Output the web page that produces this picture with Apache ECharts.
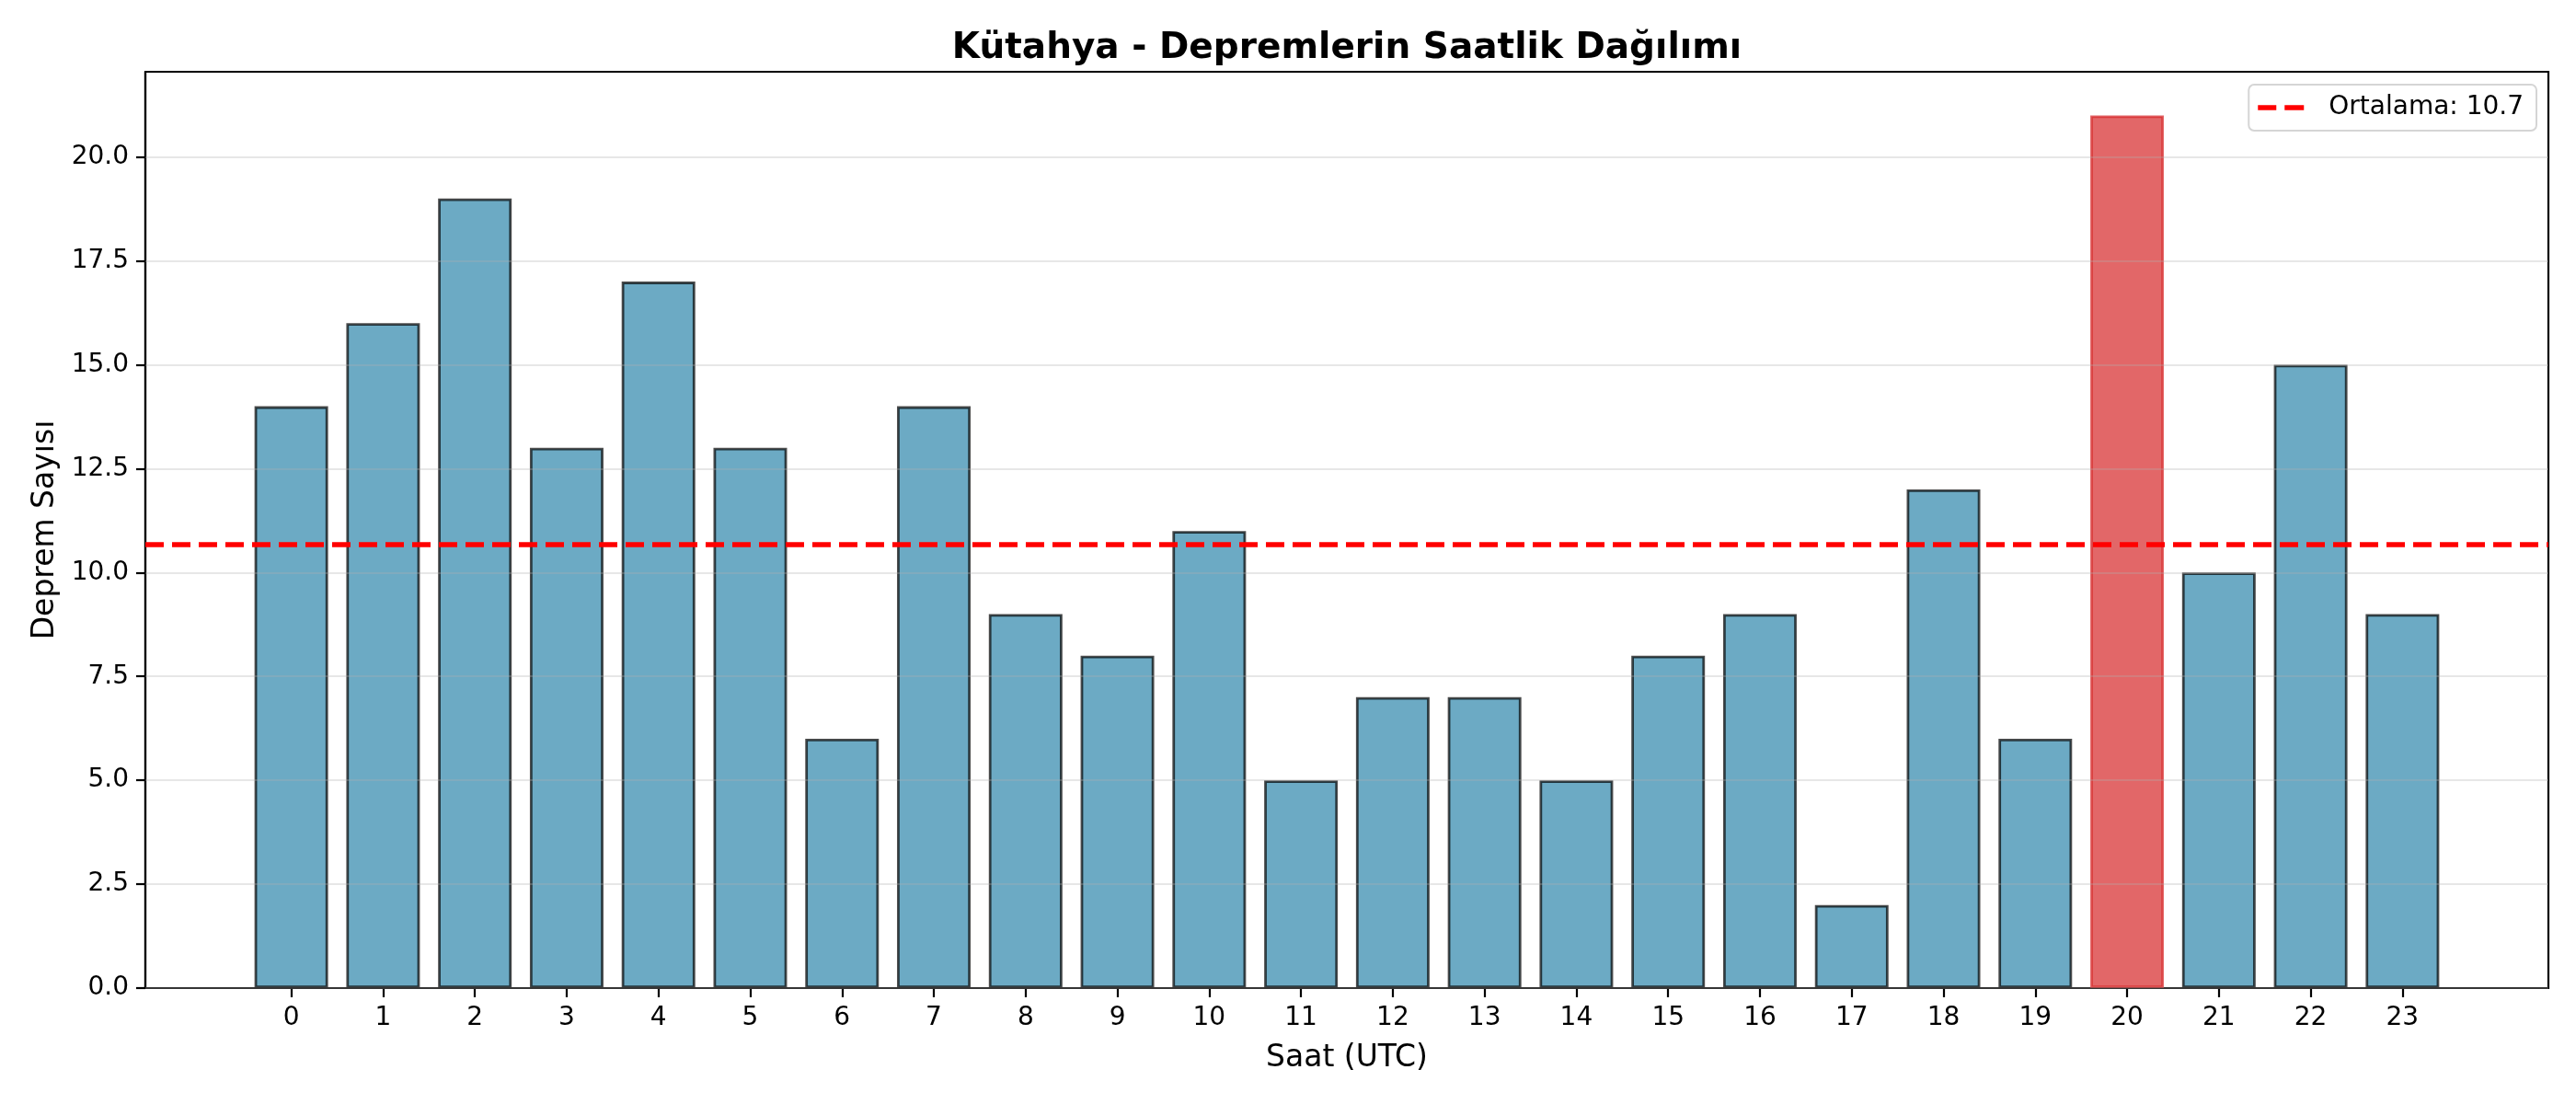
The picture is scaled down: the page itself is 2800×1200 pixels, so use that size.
<!DOCTYPE html>
<html>
<head>
<meta charset="utf-8">
<title>Kütahya - Depremlerin Saatlik Dağılımı</title>
<script src="https://cdn.jsdelivr.net/npm/echarts@6/dist/echarts.min.js"></script>
<style>
  html, body { margin: 0; padding: 0; background: #fff; }
  #chart { width: 2800px; height: 1200px; }
</style>
</head>
<body>
<div id="chart"></div>
<script>
// hourly earthquake counts
var hours = [0, 1, 2, 3, 4, 5, 6, 7, 8, 9, 10, 11, 12, 13, 14, 15, 16, 17, 18, 19, 20, 21, 22, 23];
var counts = [14, 16, 19, 13, 17, 13, 6, 14, 9, 8, 11, 5, 7, 7, 5, 8, 9, 2, 12, 6, 21, 10, 15, 9];
var yTicks = [0, 2.5, 5, 7.5, 10, 12.5, 15, 17.5, 20];

var FONT = "'DejaVu Sans', 'Noto Sans', sans-serif";

var mean = counts.reduce(function (a, b) { return a + b; }, 0) / counts.length;
var peak = Math.max.apply(null, counts);
var meanLabel = 'Ortalama: ' + mean.toFixed(1);

var barData = hours.map(function (h, i) {
    var item = { value: [h, counts[i]] };
    // saat with the most quakes is drawn in red
    if (counts[i] === peak) {
        item.itemStyle = {
            color: 'rgba(214,39,40,0.7)',
            borderColor: 'rgba(214,39,40,0.7)'
        };
    }
    return item;
});

var myChart = echarts.init(document.getElementById('chart'));

var option = {
    animation: false,
    backgroundColor: '#fff',
    textStyle: { fontFamily: FONT, color: '#000' },
    title: {
        text: 'Kütahya - Depremlerin Saatlik Dağılımı',
        left: 1464,
        textAlign: 'center',
        top: 33,
        padding: 0,
        textStyle: { fontFamily: FONT, fontSize: 39, fontWeight: 'bold', color: '#000' }
    },
    legend: {
        data: [{
            name: meanLabel,
            // two dashes, like the dashed mean line
            icon: 'path://M0,0 H20 V5.5 H0 Z M29,0 H50 V5.5 H29 Z',
            itemStyle: { color: '#ff0000' }
        }],
        right: 43,
        top: 92,
        orient: 'vertical',
        backgroundColor: '#fff',
        borderColor: '#d5d5d5',
        borderWidth: 2,
        borderRadius: 6,
        padding: [11, 14, 11, 10],
        itemWidth: 50,
        itemHeight: 5.5,
        textStyle: { fontFamily: FONT, fontSize: 28, color: '#000', padding: [0, 0, 0, 22] }
    },
    grid: {
        left: 158,
        right: 30,
        top: 78,
        bottom: 126,
        show: true,
        borderColor: '#000',
        borderWidth: 2.2,
        backgroundColor: 'transparent'
    },
    xAxis: {
        type: 'value',
        min: -1.59,
        max: 24.59,
        name: 'Saat (UTC)',
        nameLocation: 'middle',
        nameGap: 60,
        nameTextStyle: { fontFamily: FONT, fontSize: 33, color: '#000' },
        axisLine: { show: true, onZero: false, lineStyle: { color: '#000', width: 2.2 } },
        axisTick: { show: true, length: 10, customValues: hours, lineStyle: { color: '#000', width: 2.2 } },
        axisLabel: { customValues: hours, fontFamily: FONT, fontSize: 28, color: '#000', margin: 19 },
        splitLine: { show: false }
    },
    yAxis: {
        type: 'value',
        min: 0,
        max: 22.05,
        name: 'Deprem Sayısı',
        nameLocation: 'middle',
        nameGap: 92,
        nameRotate: 90,
        nameTextStyle: { fontFamily: FONT, fontSize: 33, color: '#000' },
        axisLine: { show: true, onZero: false, lineStyle: { color: '#000', width: 2.2 } },
        axisTick: { show: true, length: 10, customValues: yTicks, lineStyle: { color: '#000', width: 2.2 } },
        axisLabel: {
            customValues: yTicks,
            fontFamily: FONT, fontSize: 28, color: '#000', margin: 18,
            formatter: function (v) { return v.toFixed(1); }
        },
        splitLine: { show: false }
    },
    series: [
        {
            name: 'Deprem',
            type: 'bar',
            barWidth: 80,
            itemStyle: {
                color: 'rgba(46,134,171,0.7)',
                borderColor: 'rgba(0,0,0,0.7)',
                borderWidth: 2.8
            },
            // grid lines sit on top of the bars like in the original
            markLine: {
                silent: true,
                symbol: 'none',
                label: { show: false },
                lineStyle: { color: 'rgba(176,176,176,0.3)', width: 2.2, type: 'solid' },
                data: yTicks.map(function (v) { return { yAxis: v }; })
            },
            data: barData
        },
        {
            name: meanLabel,
            type: 'line',
            symbol: 'none',
            data: [],
            lineStyle: { color: '#ff0000', width: 5.5, type: [20, 9] },
            itemStyle: { color: '#ff0000' },
            markLine: {
                silent: true,
                symbol: 'none',
                label: { show: false },
                lineStyle: { color: '#ff0000', width: 5.5, type: [20, 9] },
                data: [{ yAxis: mean }]
            }
        }
    ]
};
myChart.setOption(option);
</script>
</body>
</html>
